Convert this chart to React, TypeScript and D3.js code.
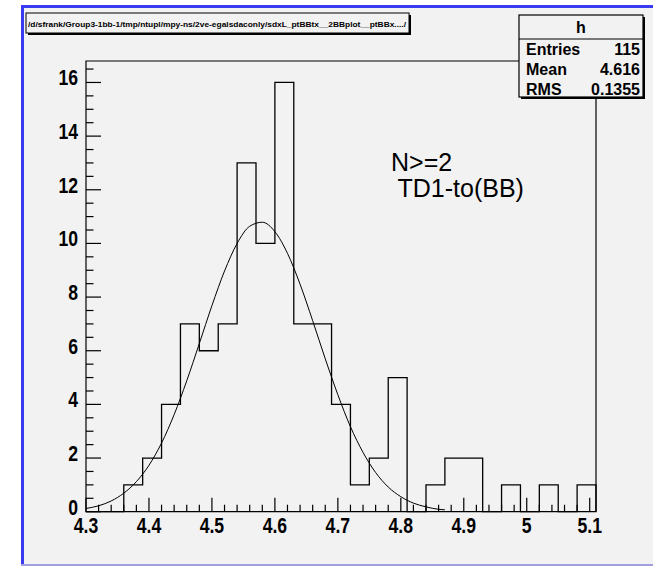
import React from 'react';
import * as d3 from 'd3';

// histogram "h": 27 bins of 0.03 from 4.3
const binStart = 4.3;
const binWidth = 0.03;
const counts = [0, 0, 1, 2, 4, 7, 6, 7, 13, 10, 16, 7, 7, 4, 1, 2, 5, 0, 1, 2, 2, 0, 1, 0, 1, 0, 1];

// gaussian fit curve
const fitX = [4.3, 4.32, 4.34, 4.36, 4.38, 4.4, 4.42, 4.44, 4.46, 4.48, 4.5, 4.52, 4.54, 4.56, 4.58,
  4.6, 4.62, 4.64, 4.66, 4.68, 4.7, 4.72, 4.74, 4.76, 4.78, 4.8, 4.82, 4.84, 4.86, 4.87];
const fitY = [0.12, 0.22, 0.4, 0.69, 1.12, 1.73, 2.56, 3.62, 4.88, 6.27, 7.68, 8.97, 10.0, 10.64, 10.79,
  10.44, 9.63, 8.48, 7.12, 5.7, 4.36, 3.17, 2.21, 1.46, 0.92, 0.56, 0.32, 0.18, 0.09, 0.07];

const xTicks = [4.3, 4.4, 4.5, 4.6, 4.7, 4.8, 4.9, 5.0, 5.1];
const xTickLabels = ['4.3', '4.4', '4.5', '4.6', '4.7', '4.8', '4.9', '5', '5.1'];
const yTicks = [0, 2, 4, 6, 8, 10, 12, 14, 16];
const yTickLabels = ['0', '2', '4', '6', '8', '10', '12', '14', '16'];

const statNames = ['Entries', 'Mean', 'RMS'];
const statValues = ['115', '4.616', '0.1355'];
const histName = 'h';
const titleText = '/d/sfrank/Group3-1bb-1/tmp/ntupl/mpy-ns/2ve-egalsdaconly/sdxL_ptBBtx__2BBplot__ptBBx..../';
const labelLines = ['N>=2', ' TD1-to(BB)'];

const W = 653;
const H = 566;
const frame = { left: 86, right: 596, top: 61, bottom: 511.7 };
const axisFont = '"Liberation Sans", Arial, sans-serif';
const statFont = '"Liberation Sans", Arial, sans-serif';

export default function App() {
  const x = d3.scaleLinear().domain([4.3, 4.3 + binWidth * counts.length]).range([frame.left, frame.right]);
  const y = d3.scaleLinear().domain([0, 16.8]).range([frame.bottom, frame.top]);

  const pts: [number, number][] = [[binStart, 0]];
  counts.forEach((c, i) => {
    pts.push([binStart + i * binWidth, c]);
    pts.push([binStart + (i + 1) * binWidth, c]);
  });
  pts.push([binStart + counts.length * binWidth, 0]);
  const histPath = d3.line<[number, number]>().x(d => x(d[0])).y(d => y(d[1]))(pts) || '';

  const fitPath = d3.line<number>()
    .x((_, i) => x(fitX[i]))
    .y(d => y(d))
    .curve(d3.curveMonotoneX)(fitY) || '';

  const xMinor = d3.range(0, 41).map(i => 4.3 + i * 0.02).filter(v => !xTicks.some(t => Math.abs(t - v) < 1e-6));
  const yMinor = d3.range(0, 34).map(i => i * 0.5).filter(v => v % 2 !== 0);

  const box = { x: 519, y: 15, w: 124, h: 82 };

  return (
    <svg width={W} height={H} style={{ position: 'absolute', left: 0, top: 0 }}>
      <rect x={0} y={0} width={W} height={H} fill="#ffffff" />
      <rect x={21} y={5} width={W - 21} height={H - 5} fill="#f2f2f2" />
      <rect x={21} y={5} width={3} height={H - 5} fill="#3a3af0" />
      <rect x={21} y={5} width={W - 21} height={3} fill="#3a3af0" />
      <rect x={21} y={H - 2} width={W - 21} height={2} fill="#a0a0dc" />

      {/* title box */}
      <rect x={28} y={15} width={383} height={20} fill="#000" />
      <rect x={26} y={13} width={383} height={20} fill="#f2f2f2" stroke="#000" strokeWidth={1} />
      <text x={28} y={26.5} fontFamily={axisFont} fontWeight="bold" fontSize={8} textLength={378}
        lengthAdjust="spacingAndGlyphs">{titleText}</text>

      {/* frame */}
      <path d={`M${frame.left},${frame.bottom}V${frame.top}H${frame.right}V${frame.bottom}Z`}
        fill="none" stroke="#000" strokeWidth={1.2} />

      {/* x ticks */}
      {xTicks.map((t, i) => (
        <g key={'xt' + i}>
          <line x1={x(t)} x2={x(t)} y1={frame.bottom} y2={frame.bottom - 14} stroke="#000" strokeWidth={1.2} />
          <text transform={`translate(${x(t)},533) scale(0.8,1)`} textAnchor="middle" fontFamily={axisFont}
            fontWeight="bold" fontSize={22}>
            {xTickLabels[i]}
          </text>
        </g>
      ))}
      {xMinor.map((t, i) => (
        <line key={'xm' + i} x1={x(t)} x2={x(t)} y1={frame.bottom} y2={frame.bottom - 7} stroke="#000" strokeWidth={1.2} />
      ))}

      {/* y ticks */}
      {yTicks.map((t, i) => (
        <g key={'yt' + i}>
          <line x1={frame.left} x2={frame.left + 15} y1={y(t)} y2={y(t)} stroke="#000" strokeWidth={1.2} />
          <text transform={`translate(78,${y(t) + 3}) scale(0.8,1)`} textAnchor="end" fontFamily={axisFont}
            fontWeight="bold" fontSize={22}>
            {yTickLabels[i]}
          </text>
        </g>
      ))}
      {yMinor.map((t, i) => (
        <line key={'ym' + i} x1={frame.left} x2={frame.left + 7.5} y1={y(t)} y2={y(t)} stroke="#000" strokeWidth={1.2} />
      ))}

      {/* histogram + fit */}
      <path d={histPath} fill="none" stroke="#000" strokeWidth={1.3} />
      <path d={fitPath} fill="none" stroke="#000" strokeWidth={1} />

      {/* label */}
      {labelLines.map((l, i) => (
        <text key={'lab' + i} x={391} y={171 + i * 26} fontFamily={statFont} fontSize={25} style={{ whiteSpace: 'pre' }}>
          {l}
        </text>
      ))}

      {/* stats box */}
      <rect x={box.x + 2} y={box.y + 2} width={box.w} height={box.h} fill="#000" />
      <rect x={box.x} y={box.y} width={box.w} height={box.h} fill="#f2f2f2" stroke="#000" strokeWidth={1.2} />
      <line x1={box.x} x2={box.x + box.w} y1={39} y2={39} stroke="#000" strokeWidth={1.2} />
      <text x={box.x + box.w / 2} y={33} textAnchor="middle" fontFamily={statFont} fontWeight="bold" fontSize={16}>
        {histName}
      </text>
      {statNames.map((n, i) => (
        <g key={'st' + i}>
          <text x={526} y={55 + i * 20} fontFamily={statFont} fontWeight="bold" fontSize={16}>{n}</text>
          <text x={640} y={55 + i * 20} textAnchor="end" fontFamily={statFont} fontWeight="bold" fontSize={16}>
            {statValues[i]}
          </text>
        </g>
      ))}
    </svg>
  );
}
